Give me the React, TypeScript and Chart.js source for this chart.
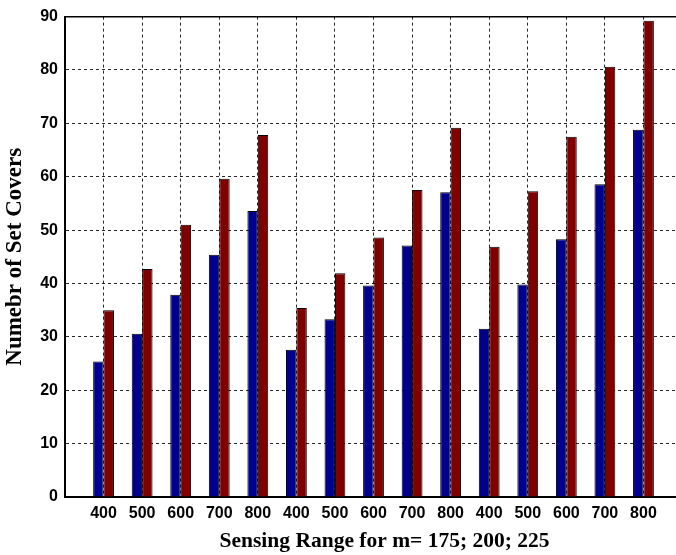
import React, { useEffect, useRef } from "react";
import { Chart, registerables } from "chart.js";

Chart.register(...registerables);

const categories = ["400", "500", "600", "700", "800", "400", "500", "600", "700", "800", "400", "500", "600", "700", "800"];
const seriesBlue = [25.4, 30.6, 37.9, 45.4, 53.6, 27.6, 33.3, 39.6, 47.1, 57.1, 31.5, 39.8, 48.3, 58.6, 68.8];
const seriesRed = [35.0, 42.7, 51.0, 59.6, 67.8, 35.4, 41.9, 48.6, 57.5, 69.2, 46.9, 57.3, 67.5, 80.6, 89.2];
const yTicks = [0, 10, 20, 30, 40, 50, 60, 70, 80, 90];
const xTitle = "Sensing Range for m= 175; 200; 225";
const yTitle = "Numebr of Set Covers";

const CANVAS_W = 710;
const CANVAS_H = 555;

export default function App() {
  const ref = useRef<HTMLCanvasElement | null>(null);

  useEffect(() => {
    const canvas = ref.current;
    if (!canvas) return;
    const tickFont = { family: "'Liberation Sans', Arial, sans-serif", size: 16, weight: "bold" as const };
    const chart = new Chart(canvas, {
      type: "bar",
      data: {
        datasets: [
          {
            label: "blue",
            data: seriesBlue.map((v, i) => ({ x: i + 1, y: v })),
            backgroundColor: "#00008f",
            borderColor: "#000000",
            borderWidth: 1,
            categoryPercentage: 0.54,
            barPercentage: 1,
          },
          {
            label: "red",
            data: seriesRed.map((v, i) => ({ x: i + 1, y: v })),
            backgroundColor: "#800000",
            borderColor: "#000000",
            borderWidth: 1,
            categoryPercentage: 0.54,
            barPercentage: 1,
          },
        ],
      },
      options: {
        responsive: false,
        animation: false,
        devicePixelRatio: 1,
        layout: { padding: { top: 11, right: CANVAS_W - 704, left: 0, bottom: 0 } },
        plugins: { legend: { display: false }, tooltip: { enabled: false } },
        scales: {
          x: {
            type: "linear",
            position: "bottom",
            offset: false,
            min: 0,
            max: 16.57,
            afterBuildTicks: (scale: any) => {
              scale.ticks = categories.map((_, i) => ({ value: i + 1 }));
            },
            afterFit: (scale: any) => {
              scale.height = 58;
            },
            ticks: {
              autoSkip: false,
              maxRotation: 0,
              minRotation: 0,
              padding: 7,
              color: "#000",
              font: tickFont,
              callback: (v: any) => categories[Math.round(Number(v)) - 1] ?? "",
            },
            grid: { display: true, offset: false, color: "rgba(0,0,0,0.85)", lineWidth: 1, drawTicks: false },
            border: { display: true, color: "#000", width: 2, dash: [3, 3] },
            title: {
              display: true,
              text: xTitle,
              color: "#000",
              font: { family: "'Liberation Serif', 'Times New Roman', serif", size: 21.5, weight: "bold" },
              padding: { top: 0, bottom: 1 },
            },
          },
          xTop: {
            type: "linear",
            position: "top",
            offset: false,
            min: 0,
            max: 16.57,
            afterFit: (scale: any) => {
              scale.height = 0;
            },
            ticks: { display: false },
            grid: { display: false, offset: false, drawTicks: false },
            border: { display: true, color: "#000", width: 1.5 },
          },
          y: {
            type: "linear",
            min: 0,
            max: 90,
            afterBuildTicks: (scale: any) => {
              scale.ticks = yTicks.map((v) => ({ value: v }));
            },
            afterFit: (scale: any) => {
              scale.width = 65;
            },
            ticks: { padding: 7, color: "#000", font: tickFont },
            grid: { display: true, color: "rgba(0,0,0,0.85)", lineWidth: 1, drawTicks: false },
            border: { display: true, color: "#000", width: 2, dash: [3, 3] },
            title: {
              display: true,
              text: yTitle,
              color: "#000",
              font: { family: "'Liberation Serif', 'Times New Roman', serif", size: 23, weight: "bold" },
              padding: { top: 1, bottom: 0 },
            },
          },
        },
      },
    } as any);
    return () => chart.destroy();
  }, []);

  return (
    <div style={{ position: "fixed", left: 0, top: 0, width: 676, height: 555, overflow: "hidden", background: "#fff" }}>
      <canvas ref={ref} width={CANVAS_W} height={CANVAS_H} style={{ display: "block", width: CANVAS_W, height: CANVAS_H }} />
    </div>
  );
}
